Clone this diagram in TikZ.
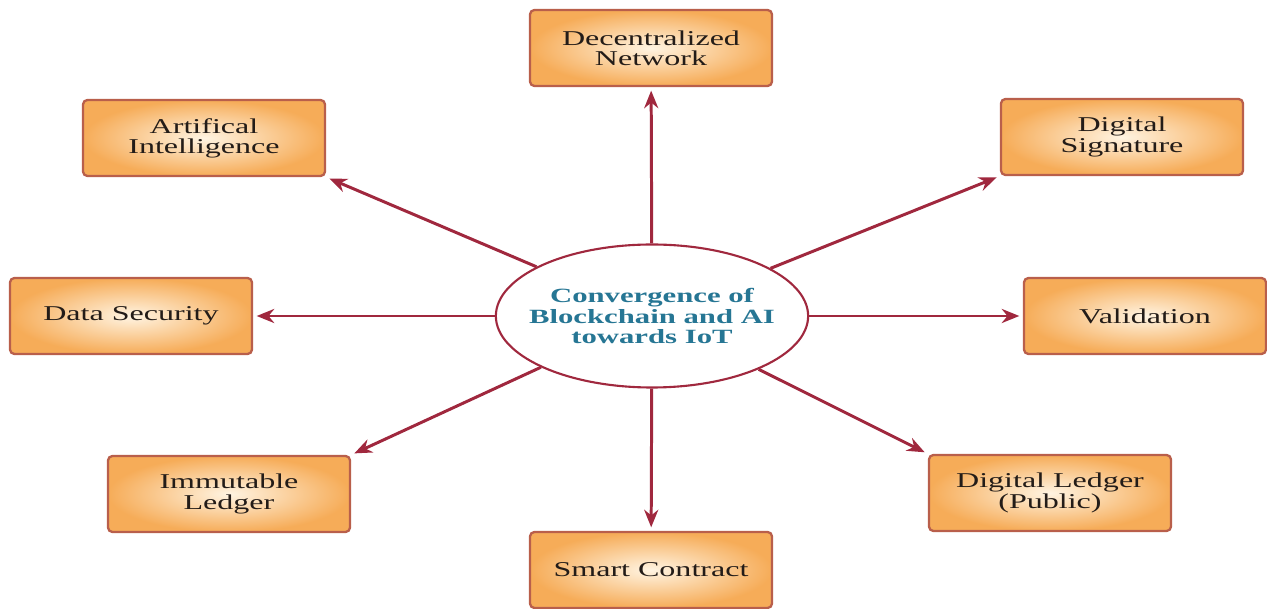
\documentclass[tikz,border=0pt]{standalone}
\usepackage{fontspec}
\setmainfont{Liberation Serif}[FakeStretch=1.52]
\usepackage{xcolor}
\usepackage{tikz}
\usetikzlibrary{shapes.geometric,arrows.meta}

\definecolor{LineRed}{RGB}{160,40,62}
\definecolor{BoxEdge}{RGB}{185,95,75}
\definecolor{BoxOut}{RGB}{246,172,88}
\definecolor{BoxIn}{RGB}{255,244,226}
\definecolor{HubText}{RGB}{38,118,148}
\definecolor{BoxText}{RGB}{35,28,24}

\begin{document}
\begin{tikzpicture}[
        box/.style = {rectangle, rounded corners=2.5pt, draw=BoxEdge, line width=1.3pt,
                      inner color=BoxIn, outer color=BoxOut,
                      minimum width=4.84cm, minimum height=1.52cm,
                      align=center, text=BoxText,
                      font=\fontsize{12}{11.5}\selectfont},
        hub/.style = {ellipse, draw=LineRed, line width=1.2pt, fill=white,
                      inner xsep=-0.25cm, inner ysep=0pt,
                      minimum width=6.22cm, minimum height=2.86cm,
                      align=center, text=HubText,
                      font=\fontsize{11.5}{11.4}\selectfont\bfseries},
        link/.style = {draw=LineRed, line width=1.7pt,
                       -{Stealth[length=10pt,width=8pt]}, shorten >=2pt}]

        \useasboundingbox (0,0) rectangle (25.34,12.18);

        % Centre
        \node[hub] (C) at (13.04,5.86) {Convergence of\\Blockchain and AI\\towards IoT};

        % Boxes
        \node[box] (net) at (13.02,11.22) {Decentralized\\Network};
        \node[box] (ai)  at (4.08,9.42)   {Artifical\\Intelligence};
        \node[box] (sig) at (22.44,9.44)  {Digital\\Signature};
        \node[box] (sec) at (2.62,5.86)   {Data Security};
        \node[box] (val) at (22.90,5.86)  {Validation};
        \node[box] (iml) at (4.58,2.30)   {Immutable\\Ledger};
        \node[box] (pub) at (21.00,2.32)  {Digital Ledger\\(Public)};
        \node[box] (sc)  at (13.02,0.78)  {Smart Contract};

        % Arrows
        \draw[link] (C) -- (net);
        \draw[link] (C) -- (ai.south east);
        \draw[link] (C) -- (sig.south west);
        \draw[link] (C) -- (sec);
        \draw[link] (C) -- (val);
        \draw[link] (C) -- (iml.north east);
        \draw[link] (C) -- (pub.north west);
        \draw[link] (C) -- (sc);

\end{tikzpicture}
\end{document}
